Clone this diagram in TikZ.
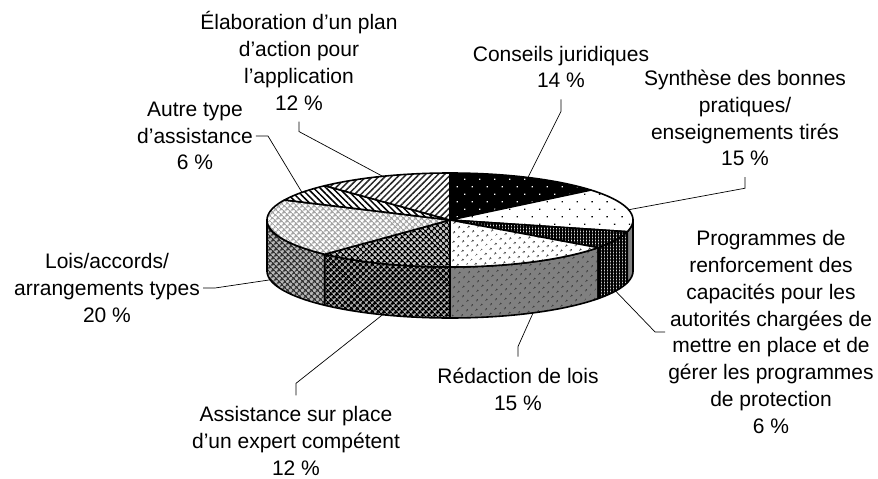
\documentclass[tikz,border=0pt]{standalone}
\usepackage{fontspec}
\setmainfont{Liberation Sans}
\usetikzlibrary{patterns.meta}

\tikzset{
  slice/.style={draw=black, line width=1.6pt, line join=round},
  % top faces
  conseils/.style={slice, preaction={fill=black}, pattern={Dots[angle=45,distance=10.6pt,radius=0.9pt]}, pattern color=white},
  synthese/.style={slice, preaction={fill=white}, pattern={Dots[angle=45,distance=10.6pt,radius=0.9pt]}, pattern color=black},
  programmes/.style={slice, preaction={fill=gray!30}, pattern={Hatch[angle=0,distance=3pt,line width=1.2pt]}, pattern color=black},
  redaction/.style={slice, preaction={fill=white}, pattern={Dots[angle=45,distance=6.5pt,radius=1pt]}, pattern color=black},
  assistance/.style={slice, preaction={fill=gray!40}, pattern={Hatch[angle=45,distance=4pt,line width=1.5pt]}, pattern color=black},
  lois/.style={slice, preaction={fill=white}, pattern={Hatch[angle=45,distance=4pt,line width=1.4pt]}, pattern color=gray!70},
  autre/.style={slice, preaction={fill=white}, pattern={Lines[angle=-45,distance=4.5pt,line width=1.5pt]}, pattern color=black},
  elab/.style={slice, preaction={fill=white}, pattern={Lines[angle=45,distance=4.5pt,line width=1.5pt]}, pattern color=black!85},
  % sides
  synthese-side/.style={slice, fill=gray},
  programmes-side/.style={slice, preaction={fill=gray!40}, pattern={Hatch[angle=0,distance=3pt,line width=1.4pt]}, pattern color=black},
  redaction-side/.style={slice, preaction={fill=gray}, pattern={Dots[angle=45,distance=6.5pt,radius=1pt]}, pattern color=black!80},
  assistance-side/.style={slice, preaction={fill=gray!45}, pattern={Hatch[angle=45,distance=4pt,line width=2pt]}, pattern color=black},
  lois-side/.style={slice, preaction={fill=gray!55}, pattern={Hatch[angle=45,distance=4pt,line width=1.4pt]}, pattern color=black!80},
  % labels and leader lines
  lbl/.style={align=center, inner xsep=3pt, inner ysep=11pt, font=\fontsize{21}{26.8}\selectfont},
  leader/.style={draw=black, line width=0.7pt},
}

\begin{document}
\begin{tikzpicture}[x=1pt, y=-1pt]
    \def\cx{450} % centre of top face
    \def\cy{220}
    \def\rx{183} % radii of top ellipse
    \def\ry{47}
    \def\dh{51}  % thickness of the pie

\useasboundingbox (0,0) rectangle (878,479);

\coordinate (cen) at (\cx,\cy);

% visible sides (front half)
\foreach \s/\a/\b in {lois-side/-180/-133.2, assistance-side/-133.2/-90, redaction-side/-90/-36, programmes-side/-36/-14.4, synthese-side/-14.4/0} {
    \path[\s] plot[domain=\a:\b, samples=40] ({\cx+\rx*cos(\x)},{\cy-\ry*sin(\x)})
        -- plot[domain=\b:\a, samples=40] ({\cx+\rx*cos(\x)},{\cy+\dh-\ry*sin(\x)}) -- cycle;
}

% top faces
\foreach \s/\a/\b in {conseils/39.6/90, synthese/-14.4/39.6, programmes/-36/-14.4, redaction/-90/-36, assistance/-133.2/-90, lois/-205.2/-133.2, autre/-226.8/-205.2, elab/-270/-226.8} {
    \path[\s] (cen) -- plot[domain=\a:\b, samples=40] ({\cx+\rx*cos(\x)},{\cy-\ry*sin(\x)}) -- cycle;
}

% ends of leader lines (mid angle of each slice)
\foreach \n/\t in {elab/111.6, autre/144, conseils/64.8, synthese/12.6}
    \coordinate (e-\n) at ({\cx+\rx*cos(\t)},{\cy-\ry*sin(\t)});
\foreach \n/\t in {programmes/-25.2, redaction/-63, assistance/-111.6, lois/-169.2}
    \coordinate (e-\n) at ({\cx+\rx*cos(\t)},{\cy+\dh-\ry*sin(\t)});

% labels
\node[lbl] (elab) at (299,61) {Élaboration d’un plan\\d’action pour\\l’application\\12 \%};
\node[lbl] (autre) at (195,136) {Autre type\\d’assistance\\6 \%};
\node[lbl] (conseils) at (561,67) {Conseils juridiques\\14 \%};
\node[lbl] (synthese) at (745,118) {Synthèse des bonnes\\pratiques/\\enseignements tirés\\15 \%};
\node[lbl] (programmes) at (771,332) {Programmes de\\renforcement des\\capacités pour les\\autorités chargées de\\mettre en place et de\\gérer les programmes\\de protection\\6 \%};
\node[lbl] (redaction) at (518,389) {Rédaction de lois\\15 \%};
\node[lbl] (lois) at (107,288) {Lois/accords/\\arrangements types\\20 \%};
\node[lbl] (assistance) at (296,441) {Assistance sur place\\d’un expert compétent\\12 \%};

% leader lines
\draw[leader] (elab.south) -- ++(0,10) -- (e-elab);
\draw[leader] (autre.east) -- ++(12,0) -- (e-autre);
\draw[leader] (conseils.south) -- ++(0,12) -- (e-conseils);
\draw[leader] (synthese.south) -- ++(0,11) -- (e-synthese);
\draw[leader] (programmes.west) -- ++(-10,0) -- (e-programmes);
\draw[leader] (redaction.north) -- ++(0,-10) -- (e-redaction);
\draw[leader] (assistance.north) -- ++(0,-12) -- (e-assistance);
\draw[leader] (lois.east) -- ++(12,0) -- (e-lois);

\end{tikzpicture}
\end{document}
